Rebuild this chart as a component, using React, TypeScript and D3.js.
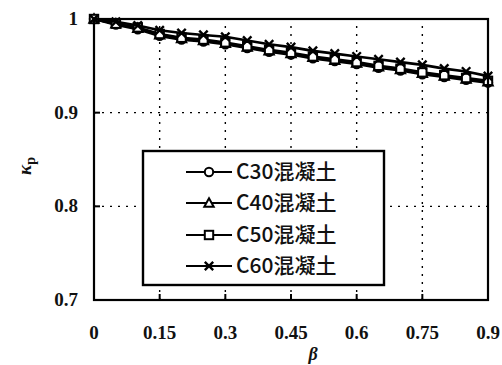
import React from "react";
import * as d3 from "d3";

const betaValues = [0, 0.05, 0.1, 0.15, 0.2, 0.25, 0.3, 0.35, 0.4, 0.45, 0.5, 0.55, 0.6, 0.65, 0.7, 0.75, 0.8, 0.85, 0.9];
const c30 = [1, 0.994, 0.989, 0.982, 0.978, 0.976, 0.973, 0.969, 0.965, 0.962, 0.958, 0.955, 0.952, 0.948, 0.945, 0.941, 0.938, 0.935, 0.932];
const c40 = [1, 0.995, 0.990, 0.983, 0.979, 0.977, 0.974, 0.970, 0.966, 0.963, 0.959, 0.956, 0.953, 0.949, 0.946, 0.942, 0.939, 0.936, 0.933];
const c50 = [1, 0.995, 0.991, 0.984, 0.980, 0.978, 0.975, 0.971, 0.967, 0.964, 0.960, 0.957, 0.954, 0.950, 0.947, 0.943, 0.940, 0.937, 0.934];
const c60 = [1, 0.997, 0.993, 0.988, 0.985, 0.983, 0.981, 0.977, 0.973, 0.970, 0.966, 0.963, 0.960, 0.957, 0.954, 0.951, 0.947, 0.944, 0.939];
const seriesNames = ["C30混凝土", "C40混凝土", "C50混凝土", "C60混凝土"];
const markerTypes = ["circle", "triangle", "square", "cross"];
const xTicks = [0, 0.15, 0.3, 0.45, 0.6, 0.75, 0.9];
const xTickLabels = ["0", "0.15", "0.3", "0.45", "0.6", "0.75", "0.9"];
const yTicks = [0.7, 0.8, 0.9, 1];
const yTickLabels = ["0.7", "0.8", "0.9", "1"];

const W = 502, H = 365;
const L = 94, R = 488, T = 19, B = 300;

function Marker({ type, x, y }: { type: string; x: number; y: number }) {
  const s = 4.2;
  const common = { fill: "#fff", stroke: "#000", strokeWidth: 2 };
  if (type === "circle") return <circle cx={x} cy={y} r={s} {...common} />;
  if (type === "triangle")
    return <path d={`M${x},${y - s - 0.5}L${x + s + 0.5},${y + s - 0.5}L${x - s - 0.5},${y + s - 0.5}Z`} {...common} />;
  if (type === "square") return <rect x={x - s} y={y - s} width={2 * s} height={2 * s} {...common} />;
  return (
    <path d={`M${x - s},${y - s}L${x + s},${y + s}M${x - s},${y + s}L${x + s},${y - s}`} stroke="#000" strokeWidth={2.4} fill="none" />
  );
}

export default function App() {
  const x = d3.scaleLinear().domain([0, 0.9]).range([L, R]);
  const y = d3.scaleLinear().domain([0.7, 1]).range([B, T]);
  const series = [c30, c40, c50, c60];
  const line = d3.line<number>().x((_, i) => x(betaValues[i])).y((d) => y(d));

  const legend = { x0: 143, y0: 151, x1: 384, y1: 285 };
  const rowY = [172, 203, 235, 266];

  return (
    <svg width={W} height={H} style={{ position: "absolute", left: 0, top: 0, background: "#fff" }}>
      <rect width={W} height={H} fill="#fff" />
      {xTicks.slice(1, -1).map((t) => (
        <line key={"gx" + t} x1={x(t)} x2={x(t)} y1={B} y2={T} stroke="#000" strokeWidth={1.4} strokeDasharray="2,6" />
      ))}
      {yTicks.slice(1, -1).map((t) => (
        <line key={"gy" + t} x1={L} x2={R} y1={y(t)} y2={y(t)} stroke="#000" strokeWidth={1.4} strokeDasharray="2,6" />
      ))}
      {xTicks.slice(1, -1).map((t) => (
        <line key={"tx" + t} x1={x(t)} x2={x(t)} y1={B} y2={B - 6} stroke="#000" strokeWidth={2} />
      ))}
      {yTicks.slice(1, -1).map((t) => (
        <line key={"ty" + t} x1={L} x2={L + 6} y1={y(t)} y2={y(t)} stroke="#000" strokeWidth={2} />
      ))}
      {series.map((s, si) => (
        <g key={"s" + si}>
          <path d={line(s) || ""} fill="none" stroke="#000" strokeWidth={2.6} />
          {s.map((v, i) => (
            <Marker key={i} type={markerTypes[si]} x={x(betaValues[i])} y={y(v)} />
          ))}
        </g>
      ))}
      <rect x={L} y={T} width={R - L} height={B - T} fill="none" stroke="#000" strokeWidth={2.2} />
      {xTicks.map((t, i) => (
        <text key={"lx" + t} x={x(t)} y={339} textAnchor="middle" fontFamily="'Liberation Serif', serif" fontSize={19} fontWeight="bold" fill="#111">
          {xTickLabels[i]}
        </text>
      ))}
      {yTicks.map((t, i) => (
        <text key={"ly" + t} x={78} y={y(t) + 6} textAnchor="end" fontFamily="'Liberation Serif', serif" fontSize={19} fontWeight="bold" fill="#111">
          {yTickLabels[i]}
        </text>
      ))}
      <text transform="translate(31,166) rotate(-90)" textAnchor="middle" fontFamily="'Liberation Serif', serif" fontSize={19} fontStyle="italic" fontWeight="bold" fill="#111">
        κ<tspan fontSize={14} dy={4} fontStyle="normal">p</tspan>
      </text>
      <text x={313} y={360} textAnchor="middle" fontFamily="'Liberation Serif', serif" fontSize={18} fontStyle="italic" fontWeight="bold" fill="#111">
        β
      </text>
      <rect x={legend.x0} y={legend.y0} width={legend.x1 - legend.x0} height={legend.y1 - legend.y0} fill="#fff" stroke="#000" strokeWidth={2.4} />
      {seriesNames.map((n, i) => (
        <g key={"lg" + i}>
          <line x1={186} x2={232} y1={rowY[i]} y2={rowY[i]} stroke="#000" strokeWidth={2.2} />
          <Marker type={markerTypes[i]} x={209} y={rowY[i]} />
          <text x={236} y={rowY[i] + 7} fontFamily="'Noto Sans CJK SC', 'Noto Sans', sans-serif" fontSize={21} fontWeight={500} fill="#111">
            {n}
          </text>
        </g>
      ))}
    </svg>
  );
}
